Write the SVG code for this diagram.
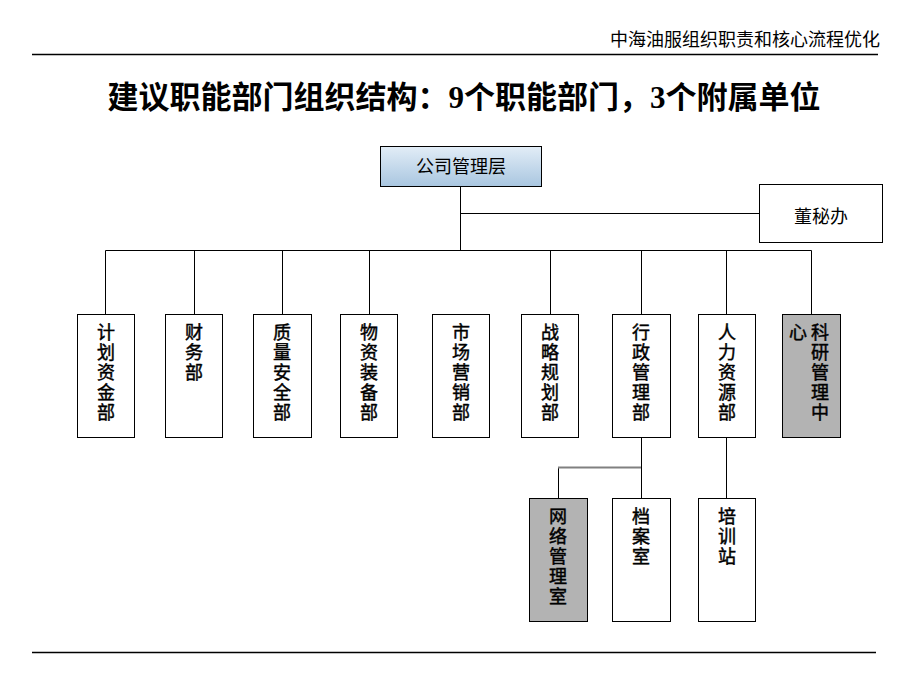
<svg xmlns="http://www.w3.org/2000/svg" width="920" height="690" viewBox="0 0 920 690">
<defs>
<linearGradient id="gBlue" x1="0" y1="0" x2="0" y2="1">
<stop offset="0" stop-color="#e2edf7"/>
<stop offset="1" stop-color="#a9c6e0"/>
</linearGradient>
<style>
.box{fill:#fff;stroke:#000;stroke-width:1}
.gray{fill:#b3b3b3;stroke:#000;stroke-width:1}
.ln{stroke:#000;stroke-width:1;fill:none}
.t{font-family:"Noto Sans CJK SC",sans-serif;font-size:18px;fill:#000;text-anchor:middle}
.v{font-family:"Noto Sans CJK SC",sans-serif;font-size:18px;fill:#000;text-anchor:middle;stroke:#000;stroke-width:0.45}
</style>
</defs>
<rect width="920" height="690" fill="#fff"/>
<g id="header">
<text x="880" y="46" font-family="Noto Sans CJK SC, sans-serif" font-size="18" text-anchor="end">中海油服组织职责和核心流程优化</text>
<line x1="32" y1="54.5" x2="878" y2="54.5" stroke="#000" stroke-width="1.5"/>
<text x="464" y="108" font-family="Liberation Serif, Noto Sans CJK SC, serif" font-size="31" font-weight="bold" text-anchor="middle">建议职能部门组织结构：9个职能部门，3个附属单位</text>
<line x1="32" y1="652.5" x2="876" y2="652.5" stroke="#000" stroke-width="1.5"/>
</g>
<g id="connectors">
<path class="ln" d="M460.5 186V250.5M460.5 213.5H760M105.5 315V250.5H811.5V315M194.5 250.5V315M282.5 250.5V315M369.5 250.5V315M550.5 250.5V315M641.5 250.5V315M726.5 250.5V315"/>
<path class="ln" d="M641.5 437V498M726.5 437V498M558.5 467.5V498"/>
<line x1="558" y1="467.5" x2="641" y2="467.5" stroke="#808080" stroke-width="2"/>
</g>
<g id="n-mgmt">
<rect x="380.5" y="146.5" width="161" height="40" fill="url(#gBlue)" stroke="#000"/>
<text class="t" x="461" y="173" font-size="17">公司管理层</text>
</g>
<g id="n-dongmi">
<rect class="box" x="759.5" y="184.5" width="123" height="58"/>
<text class="t" x="821" y="223">董秘办</text>
</g>
<g id="n-jihua">
<rect class="box" x="77.5" y="314.5" width="57" height="123"/>
<text class="v" x="106" y="339"><tspan x="106">计</tspan><tspan x="106" dy="20">划</tspan><tspan x="106" dy="20">资</tspan><tspan x="106" dy="20">金</tspan><tspan x="106" dy="20">部</tspan></text>
</g>
<g id="n-caiwu">
<rect class="box" x="165.5" y="314.5" width="57" height="123"/>
<text class="v" x="194" y="339"><tspan x="194">财</tspan><tspan x="194" dy="20">务</tspan><tspan x="194" dy="20">部</tspan></text>
</g>
<g id="n-zhiliang">
<rect class="box" x="253.5" y="314.5" width="58" height="123"/>
<text class="v" x="282" y="339"><tspan x="282">质</tspan><tspan x="282" dy="20">量</tspan><tspan x="282" dy="20">安</tspan><tspan x="282" dy="20">全</tspan><tspan x="282" dy="20">部</tspan></text>
</g>
<g id="n-wuzi">
<rect class="box" x="340.5" y="314.5" width="57" height="123"/>
<text class="v" x="369" y="339"><tspan x="369">物</tspan><tspan x="369" dy="20">资</tspan><tspan x="369" dy="20">装</tspan><tspan x="369" dy="20">备</tspan><tspan x="369" dy="20">部</tspan></text>
</g>
<g id="n-shichang">
<rect class="box" x="432.5" y="314.5" width="57" height="123"/>
<text class="v" x="461" y="339"><tspan x="461">市</tspan><tspan x="461" dy="20">场</tspan><tspan x="461" dy="20">营</tspan><tspan x="461" dy="20">销</tspan><tspan x="461" dy="20">部</tspan></text>
</g>
<g id="n-zhanlue">
<rect class="box" x="521.5" y="314.5" width="57" height="123"/>
<text class="v" x="550" y="339"><tspan x="550">战</tspan><tspan x="550" dy="20">略</tspan><tspan x="550" dy="20">规</tspan><tspan x="550" dy="20">划</tspan><tspan x="550" dy="20">部</tspan></text>
</g>
<g id="n-xingzheng">
<rect class="box" x="612.5" y="314.5" width="58" height="123"/>
<text class="v" x="641" y="339"><tspan x="641">行</tspan><tspan x="641" dy="20">政</tspan><tspan x="641" dy="20">管</tspan><tspan x="641" dy="20">理</tspan><tspan x="641" dy="20">部</tspan></text>
</g>
<g id="n-renli">
<rect class="box" x="698.5" y="314.5" width="57" height="123"/>
<text class="v" x="727" y="339"><tspan x="727">人</tspan><tspan x="727" dy="20">力</tspan><tspan x="727" dy="20">资</tspan><tspan x="727" dy="20">源</tspan><tspan x="727" dy="20">部</tspan></text>
</g>
<g id="n-keyan">
<rect class="gray" x="782.5" y="314.5" width="58" height="123"/>
<text class="v" x="820" y="339"><tspan x="820">科</tspan><tspan x="820" dy="20">研</tspan><tspan x="820" dy="20">管</tspan><tspan x="820" dy="20">理</tspan><tspan x="820" dy="20">中</tspan></text>
<text class="v" x="798" y="339">心</text>
</g>
<g id="n-wangluo">
<rect class="gray" x="529.5" y="498.5" width="58" height="123"/>
<text class="v" x="558" y="523"><tspan x="558">网</tspan><tspan x="558" dy="20">络</tspan><tspan x="558" dy="20">管</tspan><tspan x="558" dy="20">理</tspan><tspan x="558" dy="20">室</tspan></text>
</g>
<g id="n-dangan">
<rect class="box" x="612.5" y="498.5" width="58" height="123"/>
<text class="v" x="641" y="523"><tspan x="641">档</tspan><tspan x="641" dy="20">案</tspan><tspan x="641" dy="20">室</tspan></text>
</g>
<g id="n-peixun">
<rect class="box" x="698.5" y="498.5" width="57" height="123"/>
<text class="v" x="727" y="523"><tspan x="727">培</tspan><tspan x="727" dy="20">训</tspan><tspan x="727" dy="20">站</tspan></text>
</g>
</svg>
